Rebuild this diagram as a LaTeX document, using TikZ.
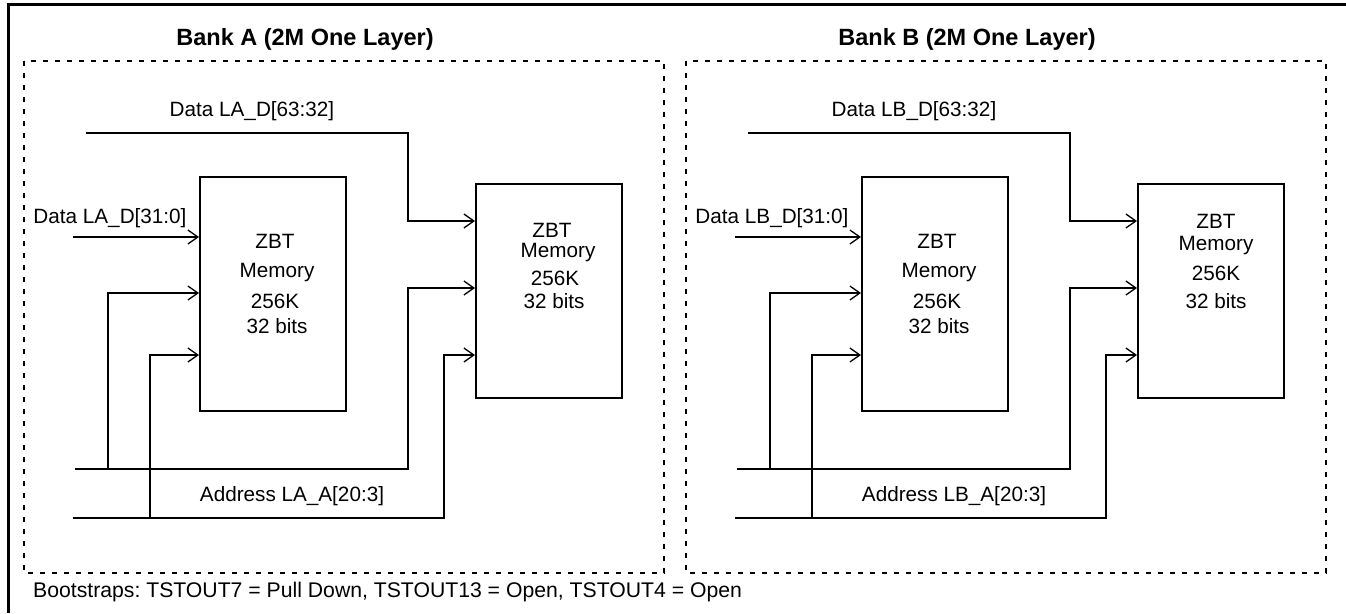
\documentclass[tikz,border=0pt]{standalone}
\usepackage{fontspec}
\setmainfont{Liberation Sans}
\usetikzlibrary{arrows.meta}
\frenchspacing
\tikzset{
  wire/.style={line width=2pt, line join=miter},
  feed/.style={wire, -{Straight Barb[length=10pt,width=14pt,line width=1.3pt]}},
  mem/.style={draw, line width=2pt, rectangle, inner sep=0pt},
  lbl/.style={font=\fontsize{20.7}{24}\selectfont, anchor=base, inner sep=0pt},
  note/.style={font=\fontsize{21.2}{24}\selectfont, anchor=base west, inner sep=0pt},
  ttl/.style={font=\fontsize{23.5}{28}\selectfont\bfseries, anchor=base, inner sep=0pt},
  bankframe/.style={line width=2pt, dash pattern=on 5pt off 7pt},
}
\newcommand\membank[3]{%
\begin{scope}[xshift=#3]
  \draw[bankframe] (24,61) rectangle (664,573);
  \node[ttl] (#1title) at (305,45) {Bank #2 (2M One Layer)};
  \node[mem, minimum width=146pt, minimum height=234pt] (#1m1) at (273,294) {};
  \node[mem, minimum width=146pt, minimum height=214pt] (#1m2) at (549,291) {};
  \node[lbl] (#1t1a) at (275,248) {ZBT};
  \node[lbl] (#1t1b) at (277,277) {Memory};
  \node[lbl] (#1t1c) at (275,308) {256K};
  \node[lbl] (#1t1d) at (277,333) {32 bits};
  \node[lbl] (#1hi) at (252,116) {Data L#2\_D[63:32]};
  \node[lbl] (#1lo) at (110,223) {Data L#2\_D[31:0]};
  \node[lbl] (#1addr) at (292,501) {Address L#2\_A[20:3]};
  \coordinate (#1hiS) at (86,133);
  \coordinate (#1loS) at (73,237);
  \coordinate (#1a1S) at (75,469);
  \coordinate (#1a1J) at (108,469);
  \coordinate (#1a2S) at (73,518);
  \coordinate (#1a2J) at (150,518);
  \draw[feed] (#1hiS) -| (408,221) -- (#1m2.west |- 0,221);
  \draw[feed] (#1loS) -- (#1loS -| #1m1.west);
  \draw[feed] (#1a1S) -| (408,288) -- (#1m2.west |- 0,288);
  \draw[feed] (#1a1J) |- (#1m1.west |- 0,293);
  \draw[feed] (#1a2S) -| (444,355) -- (#1m2.west |- 0,355);
  \draw[feed] (#1a2J) |- (#1m1.west |- 0,355);
\end{scope}}
\begin{document}
\begin{tikzpicture}[x=1pt,y=-1pt]
\useasboundingbox (0,0) rectangle (1346,613);
\draw[line width=3pt] (8,613) -- (8,4) -- (1346,4);
\membank{A}{A}{0pt}
\membank{B}{B}{662pt}
% second-box texts
\node[lbl] (At2a) at (552,237) {ZBT};
\node[lbl] (At2b) at (558,257) {Memory};
\node[lbl] (At2c) at (555,285) {256K};
\node[lbl] (At2d) at (554,308) {32 bits};
\node[lbl] (Bt2a) at (1216,228) {ZBT};
\node[lbl] (Bt2b) at (1216,250) {Memory};
\node[lbl] (Bt2c) at (1216,280) {256K};
\node[lbl] (Bt2d) at (1216,308) {32 bits};
\node[note] (boot) at (33,597) {Bootstraps: TSTOUT7 = Pull Down, TSTOUT13 = Open, TSTOUT4 = Open};
\end{tikzpicture}
\end{document}
